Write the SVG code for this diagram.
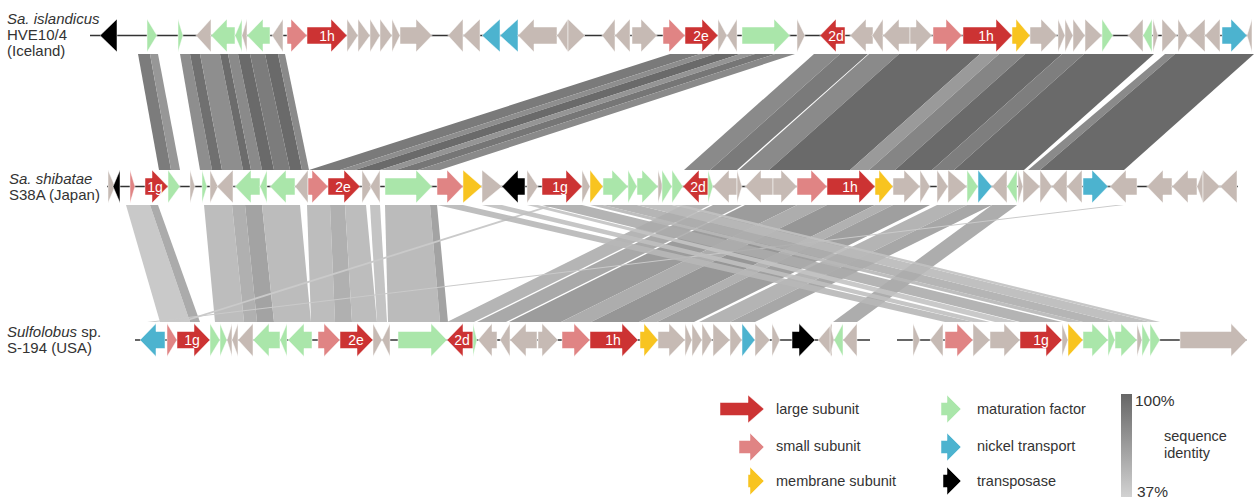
<svg xmlns="http://www.w3.org/2000/svg" width="1254" height="499" viewBox="0 0 1254 499">
<defs>
<linearGradient id="idgrad" x1="0" y1="0" x2="0" y2="1">
<stop offset="0" stop-color="#666"/>
<stop offset="1" stop-color="#d2d2d2"/>
</linearGradient>
<style>
text{font-family:"Liberation Sans",Arial,sans-serif;fill:#333}
.lab{font-size:15px}
.it{font-style:italic}
.gl{font-size:14px;fill:#fff;text-anchor:middle}
.lg{font-size:14.5px}
.pct{font-size:15.5px}
.bb{stroke:#333;stroke-width:1.5}
path{stroke:#fff;stroke-width:0.5}
.r{fill:#cc3333}.p{fill:#e08484}.y{fill:#f8c420}.g{fill:#aae6aa}.b{fill:#4cb3cf}.k{fill:#000}.o{fill:#c6bab4}
</style>
</defs>
<rect width="1254" height="499" fill="#fff"/>

<g id="links">
<g id="links12">
<polygon points="138,54 150,54 171,170 159,170" fill="#7c7c7c"/>
<polygon points="150,54 158,54 180,170 171,170" fill="#979797"/>
<polygon points="180,54 190,54 212,170 200,170" fill="#8e8e8e"/>
<polygon points="190,54 200,54 222,170 212,170" fill="#707070"/>
<polygon points="200,54 220,54 243,170 222,170" fill="#8e8e8e"/>
<polygon points="220,54 228,54 251,170 243,170" fill="#6c6c6c"/>
<polygon points="228,54 238,54 262,170 251,170" fill="#8a8a8a"/>
<polygon points="238,54 250,54 274,170 262,170" fill="#6a6a6a"/>
<polygon points="250,54 265,54 290,170 274,170" fill="#7c7c7c"/>
<polygon points="265,54 278,54 302,170 290,170" fill="#6a6a6a"/>
<polygon points="278,54 285,54 309,170 302,170" fill="#8a8a8a"/>
<polygon points="670,54 700,54 340,170 309,170" fill="#7a7a7a"/>
<polygon points="700,54 715,54 355,170 340,170" fill="#8e8e8e"/>
<polygon points="715,54 740,54 380,170 355,170" fill="#6a6a6a"/>
<polygon points="740,54 755,54 396,170 380,170" fill="#959595"/>
<polygon points="755,54 775,54 418,170 396,170" fill="#767676"/>
<polygon points="775,54 795,54 440,170 418,170" fill="#8a8a8a"/>
<polygon points="814,54 840,54 710,170 684,170" fill="#8a8a8a"/>
<polygon points="840,54 868,54 737,170 710,170" fill="#7a7a7a"/>
<polygon points="869,54 899,54 769,170 739,170" fill="#8a8a8a"/>
<polygon points="899,54 980,54 850,170 769,170" fill="#6a6a6a"/>
<polygon points="980,54 999,54 869,170 850,170" fill="#9a9a9a"/>
<polygon points="999,54 1025,54 895,170 869,170" fill="#858585"/>
<polygon points="1025,54 1062,54 932,170 895,170" fill="#6a6a6a"/>
<polygon points="1062,54 1084,54 954,170 932,170" fill="#7e7e7e"/>
<polygon points="1084,54 1154,54 1024,170 954,170" fill="#6a6a6a"/>
<polygon points="1165,54 1175,54 1040,170 1028,170" fill="#8a8a8a"/>
<polygon points="1175,54 1254,54 1124,170 1040,170" fill="#6a6a6a"/>
</g>
<g id="links23">
<polygon points="126,205 150,205 190,322 160,322" fill="#c9c9c9"/>
<polygon points="150,205 158,205 200,322 190,322" fill="#ababab"/>
<polygon points="204,205 232,205 244,322 215,322" fill="#bdbdbd"/>
<polygon points="232,205 245,205 257,322 244,322" fill="#b0b0b0"/>
<polygon points="245,205 262,205 274,322 257,322" fill="#a3a3a3"/>
<polygon points="262,205 300,205 311,322 274,322" fill="#bcbcbc"/>
<polygon points="307,205 330,205 335,322 311,322" fill="#bdbdbd"/>
<polygon points="330,205 345,205 352,322 335,322" fill="#b0b0b0"/>
<polygon points="345,205 366,205 377,322 352,322" fill="#bdbdbd"/>
<polygon points="370,205 380,205 387,322 377,322" fill="#c4c4c4"/>
<polygon points="385,205 430,205 440,322 388,322" fill="#bbbbbb"/>
<polygon points="430,205 437,205 448,322 440,322" fill="#a3a3a3"/>
<polygon points="683,205 710,205 474,322 447,322" fill="#b5b5b5"/>
<polygon points="713,205 742,205 506,322 477,322" fill="#a9a9a9"/>
<polygon points="745,205 797,205 561,322 509,322" fill="#9c9c9c"/>
<polygon points="797,205 827,205 591,322 561,322" fill="#adadad"/>
<polygon points="827,205 875,205 639,322 591,322" fill="#969696"/>
<polygon points="875,205 893,205 657,322 639,322" fill="#b1b1b1"/>
<polygon points="893,205 930,205 694,322 657,322" fill="#9f9f9f"/>
<polygon points="937,205 967,205 730,322 699,322" fill="#b4b4b4"/>
<polygon points="967,205 992,205 755,322 730,322" fill="#a7a7a7"/>
<polygon points="992,205 1017,205 857,322 833,322" fill="#adadad"/>
<polygon points="1116,205 1124,205 155,322 147,322" fill="#cacaca"/>
<polygon points="550,205 556,205 184,322 178,322" fill="#cacaca"/>
<g opacity="0.9">
<polygon points="437,205 463,205 973,322 945,322" fill="#b8b8b8"/>
<polygon points="482,205 502,205 990,322 973,322" fill="#c0c0c0"/>
<polygon points="527,205 538,205 1018,322 995,322" fill="#c4c4c4"/>
<polygon points="542,205 582,205 1062,322 1020,322" fill="#acacac"/>
<polygon points="590,205 603,205 1083,322 1068,322" fill="#b8b8b8"/>
<polygon points="603,205 637,205 1115,322 1083,322" fill="#aeaeae"/>
<polygon points="637,205 672,205 1150,322 1115,322" fill="#bababa"/>
<polygon points="672,205 683,205 1160,322 1150,322" fill="#c2c2c2"/>
</g>
</g>
</g>

<g id="track1" transform="translate(0,35.5)">
<line class="bb" x1="90" y1="0" x2="1252" y2="0"/>
<path class="k" d="M117 -16.5 L100 0 L117 16.5Z"/>
<path class="g" d="M147 -16.5 L157 0 L147 16.5Z"/>
<path class="g" d="M178 -16.5 L183 0 L178 16.5Z"/>
<path class="o" d="M211 -16.5 L196 0 L211 16.5Z"/>
<path class="g" d="M235 -8.5 H227 V-16.5 L211 0 L227 16.5 V8.5 H235Z"/>
<path class="g" d="M242 -16.5 L235 0 L242 16.5Z"/>
<path class="o" d="M247 -16.5 L242 0 L247 16.5Z"/>
<path class="g" d="M270 -8.5 H263 V-16.5 L247 0 L263 16.5 V8.5 H270Z"/>
<path class="o" d="M283 -16.5 L272 0 L283 16.5Z"/>
<path class="p" d="M287 -8.5 H291 V-16.5 L307 0 L291 16.5 V8.5 H287Z"/>
<path class="r" d="M307 -8.5 H331 V-16.5 L347 0 L331 16.5 V8.5 H307Z"/>
<text class="gl" x="327" y="5">1h</text>
<path class="o" d="M347 -16.5 L358 0 L347 16.5Z"/>
<path class="o" d="M358 -16.5 L370 0 L358 16.5Z"/>
<path class="o" d="M370 -16.5 L380 0 L370 16.5Z"/>
<path class="o" d="M380 -16.5 L392 0 L380 16.5Z"/>
<path class="o" d="M392 -16.5 L400 0 L392 16.5Z"/>
<path class="o" d="M400 -8.5 H416 V-16.5 L432 0 L416 16.5 V8.5 H400Z"/>
<path class="o" d="M463 -16.5 L448 0 L463 16.5Z"/>
<path class="o" d="M480 -16.5 L463 0 L480 16.5Z"/>
<path class="b" d="M500 -16.5 L482 0 L500 16.5Z"/>
<path class="b" d="M518 -16.5 L500 0 L518 16.5Z"/>
<path class="o" d="M557 -8.5 H534 V-16.5 L518 0 L534 16.5 V8.5 H557Z"/>
<path class="o" d="M568 -16.5 L557 0 L568 16.5Z"/>
<path class="o" d="M568 -16.5 L585 0 L568 16.5Z"/>
<path class="o" d="M615 -16.5 L602 0 L615 16.5Z"/>
<path class="o" d="M630 -16.5 L615 0 L630 16.5Z"/>
<path class="o" d="M632 -8.5 H641 V-16.5 L657 0 L641 16.5 V8.5 H632Z"/>
<path class="p" d="M663 -8.5 H669 V-16.5 L685 0 L669 16.5 V8.5 H663Z"/>
<path class="r" d="M685 -8.5 H702 V-16.5 L718 0 L702 16.5 V8.5 H685Z"/>
<text class="gl" x="701" y="5">2e</text>
<path class="o" d="M718 -16.5 L727 0 L718 16.5Z"/>
<path class="o" d="M737 -16.5 L727 0 L737 16.5Z"/>
<path class="g" d="M742 -8.5 H774 V-16.5 L790 0 L774 16.5 V8.5 H742Z"/>
<path class="o" d="M797 -16.5 L805 0 L797 16.5Z"/>
<path class="r" d="M845 -8.5 H836 V-16.5 L820 0 L836 16.5 V8.5 H845Z"/>
<text class="gl" x="836" y="5">2d</text>
<path class="o" d="M873 -8.5 H866 V-16.5 L850 0 L866 16.5 V8.5 H873Z"/>
<path class="o" d="M883 -16.5 L872 0 L883 16.5Z"/>
<path class="o" d="M910 -8.5 H899 V-16.5 L883 0 L899 16.5 V8.5 H910Z"/>
<path class="o" d="M910 -8.5 H916 V-16.5 L932 0 L916 16.5 V8.5 H910Z"/>
<path class="p" d="M933 -8.5 H946 V-16.5 L962 0 L946 16.5 V8.5 H933Z"/>
<path class="r" d="M963 -8.5 H996 V-16.5 L1012 0 L996 16.5 V8.5 H963Z"/>
<text class="gl" x="986" y="5">1h</text>
<path class="y" d="M1012 -8.5 H1016 V-16.5 L1030 0 L1016 16.5 V8.5 H1012Z"/>
<path class="o" d="M1030 -8.5 H1041 V-16.5 L1057 0 L1041 16.5 V8.5 H1030Z"/>
<path class="o" d="M1058 -16.5 L1065 0 L1058 16.5Z"/>
<path class="o" d="M1065 -16.5 L1073 0 L1065 16.5Z"/>
<path class="o" d="M1073 -16.5 L1085 0 L1073 16.5Z"/>
<path class="o" d="M1085 -16.5 L1102 0 L1085 16.5Z"/>
<path class="g" d="M1102 -16.5 L1113 0 L1102 16.5Z"/>
<path class="o" d="M1143 -16.5 L1128 0 L1143 16.5Z"/>
<path class="g" d="M1152 -16.5 L1143 0 L1152 16.5Z"/>
<path class="o" d="M1153 -16.5 L1158 0 L1153 16.5Z"/>
<path class="o" d="M1162 -16.5 L1177 0 L1162 16.5Z"/>
<path class="o" d="M1178 -16.5 L1188 0 L1178 16.5Z"/>
<path class="o" d="M1205 -16.5 L1188 0 L1205 16.5Z"/>
<path class="o" d="M1220 -16.5 L1205 0 L1220 16.5Z"/>
<path class="b" d="M1222 -8.5 H1231 V-16.5 L1247 0 L1231 16.5 V8.5 H1222Z"/>
<path class="o" d="M1252 -16.5 L1247 0 L1252 16.5Z"/>
</g>

<g id="track2" transform="translate(0,186.5)">
<line class="bb" x1="107" y1="0" x2="1238" y2="0"/>
<path class="o" d="M108 -16.5 L115 0 L108 16.5Z"/>
<path class="k" d="M120 -16.5 L113 0 L120 16.5Z"/>
<path class="p" d="M130 -16.5 L135 0 L130 16.5Z"/>
<path class="r" d="M145 -8.5 H152 V-16.5 L168 0 L152 16.5 V8.5 H145Z"/>
<text class="gl" x="155" y="5">1g</text>
<path class="g" d="M168 -16.5 L180 0 L168 16.5Z"/>
<path class="o" d="M190 -16.5 L195 0 L190 16.5Z"/>
<path class="g" d="M202 -16.5 L207 0 L202 16.5Z"/>
<path class="o" d="M210 -16.5 L218 0 L210 16.5Z"/>
<path class="o" d="M233 -16.5 L217 0 L233 16.5Z"/>
<path class="g" d="M260 -8.5 H251 V-16.5 L235 0 L251 16.5 V8.5 H260Z"/>
<path class="g" d="M267 -16.5 L260 0 L267 16.5Z"/>
<path class="g" d="M295 -8.5 H286 V-16.5 L270 0 L286 16.5 V8.5 H295Z"/>
<path class="o" d="M308 -16.5 L295 0 L308 16.5Z"/>
<path class="p" d="M308 -8.5 H312 V-16.5 L328 0 L312 16.5 V8.5 H308Z"/>
<path class="r" d="M328 -8.5 H344 V-16.5 L360 0 L344 16.5 V8.5 H328Z"/>
<text class="gl" x="343" y="5">2e</text>
<path class="o" d="M362 -16.5 L372 0 L362 16.5Z"/>
<path class="o" d="M380 -16.5 L370 0 L380 16.5Z"/>
<path class="g" d="M385 -8.5 H416 V-16.5 L432 0 L416 16.5 V8.5 H385Z"/>
<path class="p" d="M437 -8.5 H447 V-16.5 L463 0 L447 16.5 V8.5 H437Z"/>
<path class="y" d="M463 -16.5 L482 0 L463 16.5Z"/>
<path class="o" d="M482 -16.5 L502 0 L482 16.5Z"/>
<path class="k" d="M525 -8.5 H518 V-16.5 L502 0 L518 16.5 V8.5 H525Z"/>
<path class="o" d="M527 -16.5 L538 0 L527 16.5Z"/>
<path class="r" d="M542 -8.5 H566 V-16.5 L582 0 L566 16.5 V8.5 H542Z"/>
<text class="gl" x="560" y="5">1g</text>
<path class="o" d="M582 -16.5 L590 0 L582 16.5Z"/>
<path class="y" d="M590 -16.5 L603 0 L590 16.5Z"/>
<path class="g" d="M603 -8.5 H612 V-16.5 L628 0 L612 16.5 V8.5 H603Z"/>
<path class="g" d="M628 -16.5 L637 0 L628 16.5Z"/>
<path class="g" d="M637 -8.5 H642 V-16.5 L658 0 L642 16.5 V8.5 H637Z"/>
<path class="o" d="M658 -16.5 L663 0 L658 16.5Z"/>
<path class="g" d="M662 -16.5 L672 0 L662 16.5Z"/>
<path class="g" d="M672 -16.5 L683 0 L672 16.5Z"/>
<path class="r" d="M708 -8.5 H699 V-16.5 L683 0 L699 16.5 V8.5 H708Z"/>
<text class="gl" x="698" y="5">2d</text>
<path class="g" d="M708 -16.5 L713 0 L708 16.5Z"/>
<path class="o" d="M737 -8.5 H729 V-16.5 L713 0 L729 16.5 V8.5 H737Z"/>
<path class="o" d="M737 -16.5 L742 0 L737 16.5Z"/>
<path class="o" d="M773 -8.5 H761 V-16.5 L745 0 L761 16.5 V8.5 H773Z"/>
<path class="o" d="M773 -8.5 H781 V-16.5 L797 0 L781 16.5 V8.5 H773Z"/>
<path class="p" d="M797 -8.5 H811 V-16.5 L827 0 L811 16.5 V8.5 H797Z"/>
<path class="r" d="M827 -8.5 H859 V-16.5 L875 0 L859 16.5 V8.5 H827Z"/>
<text class="gl" x="850" y="5">1h</text>
<path class="y" d="M875 -8.5 H879 V-16.5 L893 0 L879 16.5 V8.5 H875Z"/>
<path class="o" d="M893 -8.5 H904 V-16.5 L920 0 L904 16.5 V8.5 H893Z"/>
<path class="o" d="M920 -16.5 L930 0 L920 16.5Z"/>
<path class="o" d="M937 -16.5 L948 0 L937 16.5Z"/>
<path class="o" d="M948 -16.5 L967 0 L948 16.5Z"/>
<path class="g" d="M967 -16.5 L978 0 L967 16.5Z"/>
<path class="b" d="M978 -16.5 L992 0 L978 16.5Z"/>
<path class="o" d="M1007 -16.5 L992 0 L1007 16.5Z"/>
<path class="g" d="M1017 -16.5 L1007 0 L1017 16.5Z"/>
<path class="o" d="M1018 -16.5 L1023 0 L1018 16.5Z"/>
<path class="o" d="M1023 -16.5 L1040 0 L1023 16.5Z"/>
<path class="o" d="M1040 -16.5 L1052 0 L1040 16.5Z"/>
<path class="o" d="M1067 -16.5 L1052 0 L1067 16.5Z"/>
<path class="o" d="M1082 -16.5 L1067 0 L1082 16.5Z"/>
<path class="b" d="M1083 -8.5 H1092 V-16.5 L1108 0 L1092 16.5 V8.5 H1083Z"/>
<path class="o" d="M1137 -8.5 H1126 V-16.5 L1110 0 L1126 16.5 V8.5 H1137Z"/>
<path class="o" d="M1172 -8.5 H1163 V-16.5 L1147 0 L1163 16.5 V8.5 H1172Z"/>
<path class="o" d="M1197 -8.5 H1188 V-16.5 L1172 0 L1188 16.5 V8.5 H1197Z"/>
<path class="o" d="M1203 -16.5 L1197 0 L1203 16.5Z"/>
<path class="o" d="M1203 -16.5 L1220 0 L1203 16.5Z"/>
<path class="o" d="M1237 -16.5 L1220 0 L1237 16.5Z"/>
</g>

<g id="track3" transform="translate(0,340)">
<line class="bb" x1="135" y1="0" x2="870" y2="0"/>
<line class="bb" x1="897" y1="0" x2="1247" y2="0"/>
<path class="b" d="M165 -8.5 H156 V-16.5 L140 0 L156 16.5 V8.5 H165Z"/>
<path class="p" d="M167 -16.5 L177 0 L167 16.5Z"/>
<path class="r" d="M177 -8.5 H194 V-16.5 L210 0 L194 16.5 V8.5 H177Z"/>
<text class="gl" x="192" y="5">1g</text>
<path class="g" d="M210 -16.5 L220 0 L210 16.5Z"/>
<path class="g" d="M220 -16.5 L227 0 L220 16.5Z"/>
<path class="o" d="M232 -16.5 L227 0 L232 16.5Z"/>
<path class="o" d="M238 -16.5 L232 0 L238 16.5Z"/>
<path class="o" d="M253 -16.5 L238 0 L253 16.5Z"/>
<path class="g" d="M280 -8.5 H269 V-16.5 L253 0 L269 16.5 V8.5 H280Z"/>
<path class="g" d="M287 -16.5 L280 0 L287 16.5Z"/>
<path class="g" d="M312 -8.5 H304 V-16.5 L288 0 L304 16.5 V8.5 H312Z"/>
<path class="p" d="M318 -8.5 H324 V-16.5 L340 0 L324 16.5 V8.5 H318Z"/>
<path class="r" d="M340 -8.5 H357 V-16.5 L373 0 L357 16.5 V8.5 H340Z"/>
<text class="gl" x="356" y="5">2e</text>
<path class="o" d="M373 -16.5 L382 0 L373 16.5Z"/>
<path class="o" d="M390 -16.5 L382 0 L390 16.5Z"/>
<path class="g" d="M398 -8.5 H431 V-16.5 L447 0 L431 16.5 V8.5 H398Z"/>
<path class="r" d="M473 -8.5 H463 V-16.5 L447 0 L463 16.5 V8.5 H473Z"/>
<text class="gl" x="462" y="5">2d</text>
<path class="g" d="M473 -16.5 L477 0 L473 16.5Z"/>
<path class="o" d="M497 -8.5 H492 V-16.5 L478 0 L492 16.5 V8.5 H497Z"/>
<path class="o" d="M510 -16.5 L500 0 L510 16.5Z"/>
<path class="o" d="M537 -8.5 H526 V-16.5 L510 0 L526 16.5 V8.5 H537Z"/>
<path class="o" d="M538 -8.5 H542 V-16.5 L558 0 L542 16.5 V8.5 H538Z"/>
<path class="p" d="M562 -8.5 H574 V-16.5 L590 0 L574 16.5 V8.5 H562Z"/>
<path class="r" d="M590 -8.5 H622 V-16.5 L638 0 L622 16.5 V8.5 H590Z"/>
<text class="gl" x="613" y="5">1h</text>
<path class="y" d="M640 -8.5 H644 V-16.5 L658 0 L644 16.5 V8.5 H640Z"/>
<path class="o" d="M658 -8.5 H669 V-16.5 L685 0 L669 16.5 V8.5 H658Z"/>
<path class="o" d="M685 -16.5 L692 0 L685 16.5Z"/>
<path class="o" d="M692 -16.5 L702 0 L692 16.5Z"/>
<path class="o" d="M702 -16.5 L712 0 L702 16.5Z"/>
<path class="o" d="M713 -16.5 L730 0 L713 16.5Z"/>
<path class="o" d="M730 -16.5 L742 0 L730 16.5Z"/>
<path class="b" d="M742 -16.5 L755 0 L742 16.5Z"/>
<path class="o" d="M755 -16.5 L770 0 L755 16.5Z"/>
<path class="o" d="M772 -16.5 L780 0 L772 16.5Z"/>
<path class="k" d="M792 -8.5 H799 V-16.5 L815 0 L799 16.5 V8.5 H792Z"/>
<path class="o" d="M832 -16.5 L818 0 L832 16.5Z"/>
<path class="o" d="M830 -16.5 L834 0 L830 16.5Z"/>
<path class="g" d="M843 -16.5 L834 0 L843 16.5Z"/>
<path class="o" d="M857 -16.5 L843 0 L857 16.5Z"/>
<path class="o" d="M913 -16.5 L920 0 L913 16.5Z"/>
<path class="o" d="M943 -16.5 L930 0 L943 16.5Z"/>
<path class="p" d="M945 -8.5 H957 V-16.5 L973 0 L957 16.5 V8.5 H945Z"/>
<path class="o" d="M973 -16.5 L990 0 L973 16.5Z"/>
<path class="o" d="M990 -8.5 H1004 V-16.5 L1020 0 L1004 16.5 V8.5 H990Z"/>
<path class="r" d="M1020 -8.5 H1046 V-16.5 L1062 0 L1046 16.5 V8.5 H1020Z"/>
<text class="gl" x="1041" y="5">1g</text>
<path class="o" d="M1062 -16.5 L1068 0 L1062 16.5Z"/>
<path class="y" d="M1068 -16.5 L1083 0 L1068 16.5Z"/>
<path class="g" d="M1083 -8.5 H1092 V-16.5 L1108 0 L1092 16.5 V8.5 H1083Z"/>
<path class="g" d="M1108 -16.5 L1115 0 L1108 16.5Z"/>
<path class="g" d="M1115 -8.5 H1121 V-16.5 L1137 0 L1121 16.5 V8.5 H1115Z"/>
<path class="o" d="M1137 -16.5 L1142 0 L1137 16.5Z"/>
<path class="g" d="M1142 -16.5 L1150 0 L1142 16.5Z"/>
<path class="g" d="M1150 -16.5 L1160 0 L1150 16.5Z"/>
<path class="o" d="M1180 -8.5 H1231 V-16.5 L1247 0 L1231 16.5 V8.5 H1180Z"/>
</g>

<g id="labels">
<text class="lab" x="7" y="24"><tspan class="it">Sa. islandicus</tspan></text>
<text class="lab" x="7" y="40">HVE10/4</text>
<text class="lab" x="7" y="56">(Iceland)</text>
<text class="lab" x="9" y="184"><tspan class="it">Sa. shibatae</tspan></text>
<text class="lab" x="9" y="200">S38A (Japan)</text>
<text class="lab" x="7" y="337"><tspan class="it">Sulfolobus</tspan> sp.</text>
<text class="lab" x="7" y="353">S-194 (USA)</text>
</g>

<g id="legend">
<path class="r" d="M720 402.5 H748 V395 L764 409 L748 423 V415.5 H720Z"/>
<text class="lg" x="776" y="414">large subunit</text>
<path class="p" d="M739 440.5 H750 V433 L764 447 L750 461 V453.5 H739Z"/>
<text class="lg" x="776" y="451">small subunit</text>
<path class="y" d="M748 474.5 H750 V467 L764 481 L750 495 V487.5 H748Z"/>
<text class="lg" x="776" y="486">membrane subunit</text>
<path class="g" d="M941 402.5 H947 V395 L961 409 L947 423 V415.5 H941Z"/>
<text class="lg" x="977" y="414">maturation factor</text>
<path class="b" d="M941 440.5 H947 V433 L961 447 L947 461 V453.5 H941Z"/>
<text class="lg" x="977" y="451">nickel transport</text>
<path class="k" d="M943 474.5 H947 V467 L961 481 L947 495 V487.5 H943Z"/>
<text class="lg" x="977" y="486">transposase</text>
<rect x="1121" y="394" width="11" height="103" fill="url(#idgrad)"/>
<text class="pct" x="1135" y="406">100%</text>
<text class="lg" x="1164" y="441">sequence</text>
<text class="lg" x="1164" y="458">identity</text>
<text class="pct" x="1137" y="497">37%</text>
</g>
</svg>
